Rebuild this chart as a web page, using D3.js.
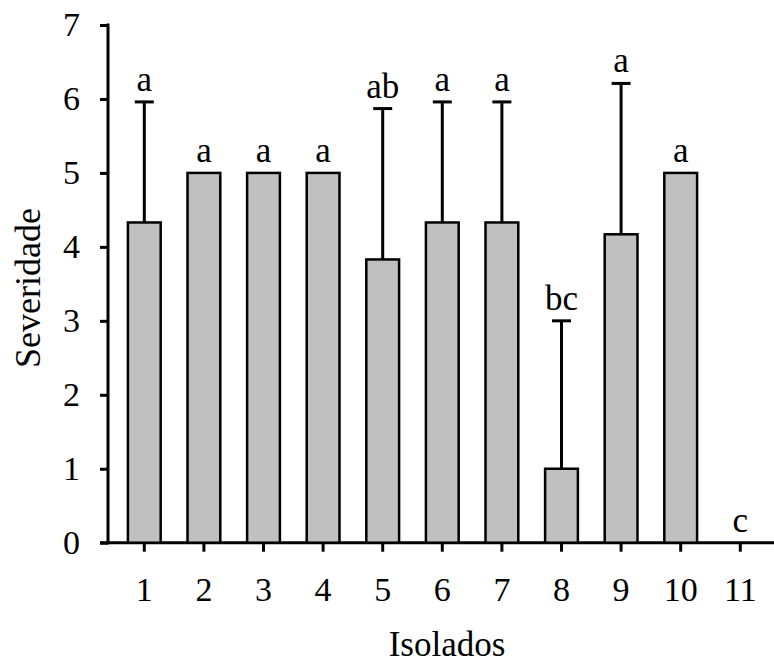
<!doctype html>
<html>
<head>
    <style>
        body { margin: 0; background: #fff; }
        .bar { fill: #c0c0c0; stroke: #000; stroke-width: 2.5px; }
        .err { stroke: #000; stroke-width: 3px; }
        text { font-family: "Liberation Serif", "Times New Roman", serif; fill: #000; }
    </style>
    <script src="https://d3js.org/d3.v7.min.js"></script>
</head>
<body>
<svg id="svg1" width="774" height="664"></svg>
<script>

    var isolados = ["1", "2", "3", "4", "5", "6", "7", "8", "9", "10", "11"];
    var severidade = [4.33, 5, 5, 5, 3.83, 4.33, 4.33, 1, 4.17, 5, 0];
    var desvio = [1.63, 0, 0, 0, 2.04, 1.63, 1.63, 2, 2.04, 0, 0];
    var letras = ["a", "a", "a", "a", "ab", "a", "a", "bc", "a", "a", "c"];
    var yTicks = [0, 1, 2, 3, 4, 5, 6, 7];

    var data = isolados.map(function(d, i) {
        return { name: d, value: severidade[i], sd: desvio[i], letter: letras[i] };
    });

    var svg = d3.select("#svg1");

    var xScale = d3.scaleBand().domain(isolados).range([114.5, 770.1])
            .paddingInner(0.45).paddingOuter(0.225),
        yScale = d3.scaleLinear().domain([0, 7]).range([542.7, 25]);

    var axisX = 108;
    var fs = "34px";

    // y axis
    var gy = svg.append("g")
        .attr("transform", "translate(" + axisX + ",0)")
        .call(d3.axisLeft(yScale).tickValues(yTicks).tickFormat(d3.format("d"))
            .tickSize(8).tickSizeOuter(0).tickPadding(20));
    gy.select(".domain").remove();
    gy.selectAll("line").attr("stroke-width", 3);
    gy.selectAll("text").attr("font-size", fs).attr("font-family", "Liberation Serif");
    svg.append("line")
        .attr("x1", axisX).attr("x2", axisX)
        .attr("y1", yScale(7) - 1.5).attr("y2", yScale(0) + 1.5)
        .attr("stroke", "#000").attr("stroke-width", 3);

    // x axis
    var gx = svg.append("g")
        .attr("transform", "translate(0," + yScale(0) + ")")
        .call(d3.axisBottom(xScale).tickSize(9).tickSizeOuter(0).tickPadding(25));
    gx.select(".domain").remove();
    gx.selectAll("line").attr("stroke-width", 3);
    gx.selectAll("text").attr("font-size", fs).attr("font-family", "Liberation Serif");
    svg.append("line")
        .attr("x1", 100).attr("x2", 774)
        .attr("y1", yScale(0)).attr("y2", yScale(0))
        .attr("stroke", "#000").attr("stroke-width", 3);

    // error bars
    var cap = 19;
    var withErr = data.filter(function(d) { return d.sd > 0; });
    svg.selectAll(".errv")
        .data(withErr)
        .enter().append("line")
        .attr("class", "err")
        .attr("x1", function(d) { return xScale(d.name) + xScale.bandwidth() / 2; })
        .attr("x2", function(d) { return xScale(d.name) + xScale.bandwidth() / 2; })
        .attr("y1", function(d) { return yScale(d.value); })
        .attr("y2", function(d) { return yScale(d.value + d.sd); });
    svg.selectAll(".errc")
        .data(withErr)
        .enter().append("line")
        .attr("class", "err")
        .attr("x1", function(d) { return xScale(d.name) + xScale.bandwidth() / 2 - cap / 2; })
        .attr("x2", function(d) { return xScale(d.name) + xScale.bandwidth() / 2 + cap / 2; })
        .attr("y1", function(d) { return yScale(d.value + d.sd); })
        .attr("y2", function(d) { return yScale(d.value + d.sd); });

    // bars
    svg.selectAll(".bar")
        .data(data.filter(function(d) { return d.value > 0; }))
        .enter().append("rect")
        .attr("class", "bar")
        .attr("x", function(d) { return xScale(d.name); })
        .attr("y", function(d) { return yScale(d.value); })
        .attr("width", xScale.bandwidth())
        .attr("height", function(d) { return yScale(0) - yScale(d.value); });

    // letters
    svg.selectAll(".letter")
        .data(data)
        .enter().append("text")
        .attr("class", "letter")
        .attr("x", function(d) { return xScale(d.name) + xScale.bandwidth() / 2; })
        .attr("y", function(d) { return yScale(d.value + d.sd) - 11; })
        .attr("text-anchor", "middle")
        .attr("font-size", "35px")
        .text(function(d) { return d.letter; });

    // axis titles
    svg.append("text")
        .attr("x", 447)
        .attr("y", 656)
        .attr("text-anchor", "middle")
        .attr("font-size", "35px")
        .text("Isolados");

    svg.append("text")
        .attr("transform", "translate(40,288) rotate(-90)")
        .attr("text-anchor", "middle")
        .attr("font-size", "36px")
        .text("Severidade");
</script>
</body>
</html>
